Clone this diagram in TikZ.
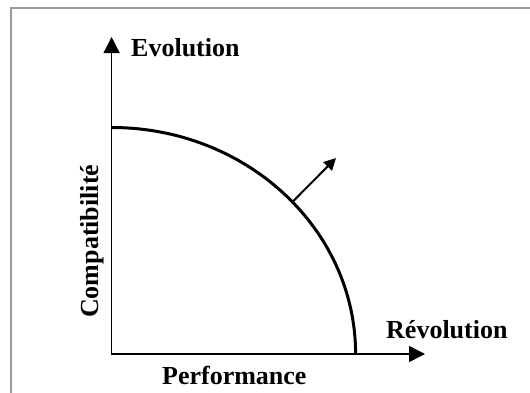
\documentclass[tikz,border=0pt]{standalone}
\usepackage{fontspec}
\setmainfont{Liberation Serif}
\usetikzlibrary{arrows.meta}
\begin{document}
\begin{tikzpicture}[x=1pt,y=1pt,
  lbl/.style={font=\fontsize{26}{30}\selectfont\bfseries, inner sep=0pt},
  axis/.style={line width=1.5pt, -{Triangle[length=16pt,width=16pt]}},
  frontier/.style={line width=3pt},
  push/.style={line width=2pt, -{Triangle[length=12pt,width=12pt]}}]
\useasboundingbox (0,0) rectangle (530,392);
\draw[line width=2pt, color=black!40] (11,-5) -- (11,384) -- (540,384);
\coordinate (O) at (111.6,38);
\coordinate (Ytip) at (111.6,355);
\coordinate (Xtip) at (425,38);
\coordinate (Ctop) at (111.6,264.5);
\coordinate (Pstart) at (292.4,190);
\coordinate (Pend) at (336,234);
\draw[axis] (O) -- (Ytip);
\draw[axis] ([xshift=-0.75pt]O) -- (Xtip);
\draw[frontier] (Ctop) arc[start angle=90, end angle=0, x radius=244, y radius=226.5];
\draw[push] (Pstart) -- (Pend);
\node[lbl, anchor=base west] (evo) at (131,335) {Evolution};
\node[lbl, anchor=base west] (rev) at (386,54) {Révolution};
\node[lbl, anchor=base] (perf) at (234.3,8) {Performance};
\node[lbl, anchor=base west, rotate=90] (comp) at (98,74) {Compatibilité};
\end{tikzpicture}
\end{document}
